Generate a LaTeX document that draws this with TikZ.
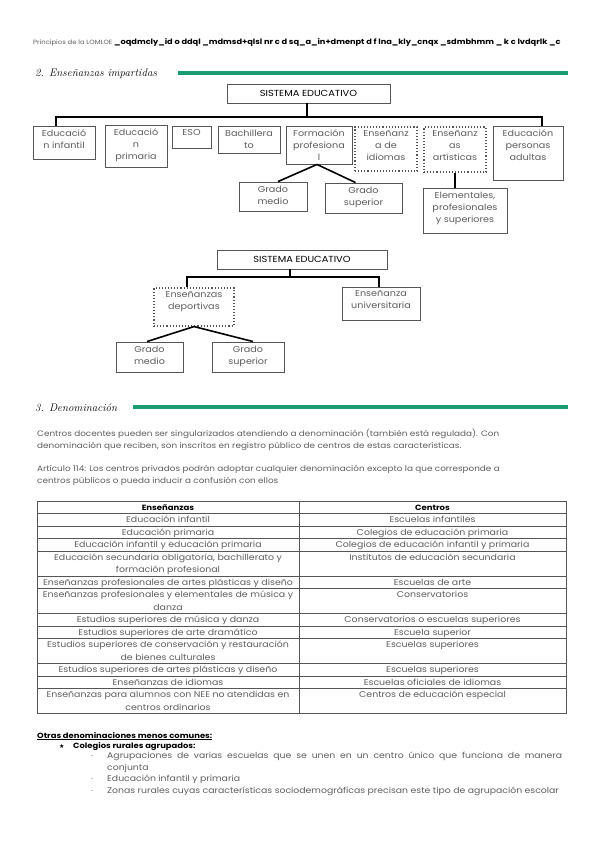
\documentclass[tikz,border=0pt]{standalone}
\usepackage{fontspec}
\newfontfamily\qs[FakeStretch=1.12]{Poppins}
\newfontfamily\djv{DejaVu Sans}
\usetikzlibrary{calc}
\definecolor{txt}{HTML}{5E5E5E}
\definecolor{bord}{HTML}{555555}
\definecolor{grn}{HTML}{189E6E}
\tikzset{
  bx/.style={draw=bord, line width=0.9pt, inner sep=0pt},
  dbx/.style={draw=bord, line width=1.1pt, dotted, inner sep=0pt},
  bt/.style={font=\qs\fontsize{8.6}{12}\selectfont, text=txt, align=center, inner sep=0pt},
  sys/.style={font=\qs\fontsize{8.8}{9}\selectfont, text=black, inner sep=0pt},
  conn/.style={line width=1.6pt, black},
  body/.style={font=\qs\fontsize{7.9}{12}\selectfont, text=txt, anchor=base west, inner sep=0pt},
  lst/.style={font=\qs\fontsize{8.3}{12}\selectfont, text=txt, anchor=base west, inner sep=0pt},
  cell/.style={font=\qs\fontsize{8.4}{9}\selectfont, text=txt, anchor=base, inner sep=0pt},
  cellh/.style={font=\qs\bfseries\fontsize{7.6}{9}\selectfont, text=black, anchor=base, inner sep=0pt},
  hand/.style={font=\rmfamily\itshape\fontsize{11}{12}\selectfont, text=black, anchor=base west, inner sep=0pt},
  gbar/.style={grn, line width=4pt},
  tline/.style={draw=bord, line width=0.8pt}
}
\newcommand{\mybox}[7]{%
  \pgfmathsetmacro{\bw}{#4-#2}\pgfmathsetmacro{\bh}{#5-#3}%
  \pgfmathsetmacro{\bcx}{(#2+#4)/2}\pgfmathsetmacro{\bcy}{(#3+#5)/2}%
  \node[#6, minimum width=\bw pt, minimum height=\bh pt] (#1) at (\bcx,\bcy) {};%
  \node[bt, anchor=north] (#1t) at ([yshift=-4pt]#1.north) {#7};}
\begin{document}
\begin{tikzpicture}[x=1pt,y=-1pt]
\useasboundingbox (0,0) rectangle (599,848);
\fill[white] (0,0) rectangle (599,848);

% header
\node[font=\qs\fontsize{6.1}{7}\selectfont, text=txt, anchor=base west, inner sep=0pt] (hdr) at (33,45) {Principios de la LOMLOE};
\node[font=\qs\bfseries\fontsize{7.35}{8}\selectfont, text=black, anchor=base west, inner sep=0pt] (hdr2) at (114,45) {\_oqdmcly\_id o ddql \_mdmsd+qlsl nr c d sq\_a\_in+dmenpt d f lna\_kly\_cnqx \_sdmbhmm \_ k c lvdqrlk \_c};

% section 2
\node[hand] (s2) at (35,77) {2. Enseñanzas impartidas};
\coordinate (g2a) at (178,73);
\coordinate (g2b) at (568,73);
\draw[gbar] (g2a) -- (g2b);

% top diagram
\mybox{top}{227}{84}{390}{103}{bx}{}
\node[sys] (topt) at (top) {SISTEMA EDUCATIVO};
\mybox{b1}{33}{126}{95}{159}{bx}{Educació\\n infantil}
\mybox{b2}{105}{125}{167}{167}{bx}{Educació\\n\\primaria}
\mybox{b3}{172}{126}{211}{148}{bx}{ESO}
\mybox{b4}{218}{126}{280}{153}{bx}{Bachillera\\to}
\mybox{b5}{286}{126}{352}{164}{bx}{Formación\\profesiona\\l}
\mybox{b6}{355}{127}{417}{171}{dbx}{Enseñanz\\a de\\idiomas}
\mybox{b7}{424}{127}{486}{172}{dbx}{Enseñanz\\as\\artísticas}
\mybox{b8}{493}{126}{563}{180}{bx}{Educación\\personas\\adultas}
\mybox{gm}{239}{182}{307}{211}{bx}{Grado\\medio}
\mybox{gs}{325}{183}{402}{213}{bx}{Grado\\superior}
\mybox{el}{423}{188}{507}{233}{bx}{Elementales,\\profesionales\\y superiores}

\coordinate (bus) at (0,117);
\draw[conn] ([xshift=-1.5pt]top.south) -- ([xshift=-1.5pt]top.south |- bus);
\draw[conn] ([xshift=-8pt]b1.north) -- ([xshift=-8pt]b1.north |- bus) -- ([xshift=14pt]b8.north |- bus) -- ([xshift=14pt]b8.north);
\draw[conn] ([xshift=-2pt]b5.south) -- ([xshift=5pt]gm.north);
\draw[conn] ([xshift=-2pt]b5.south) -- ([xshift=-8pt]gs.north);
\draw[conn] (b7.south) -- (b7.south |- el.north);

% bottom diagram
\mybox{top2}{217}{250}{387}{269}{bx}{}
\node[sys] (top2t) at (top2) {SISTEMA EDUCATIVO};
\mybox{dep}{154}{288}{234}{326}{dbx}{Enseñanzas\\deportivas}
\mybox{uni}{342}{287}{420}{320}{bx}{Enseñanza\\universitaria}
\mybox{gm2}{116}{342}{183}{372}{bx}{Grado\\medio}
\mybox{gs2}{212}{342}{284}{372}{bx}{Grado\\superior}
\coordinate (bus2) at (0,277);
\draw[conn] ([xshift=-12pt]top2.south) -- ([xshift=-12pt]top2.south |- bus2);
\draw[conn] ([xshift=-7pt]dep.north) -- ([xshift=-7pt]dep.north |- bus2) -- ([xshift=-2pt]uni.north |- bus2) -- ([xshift=-2pt]uni.north);
\draw[conn] (dep.south) -- ([xshift=-2.5pt]gm2.north);
\draw[conn] (dep.south) -- ([xshift=5pt]gs2.north);

% section 3
\node[hand] (s3) at (35,411) {3. Denominación};
\coordinate (g3a) at (133,407);
\coordinate (g3b) at (568,407);
\draw[gbar] (g3a) -- (g3b);

\node[body] (p1) at (37,436) {Centros docentes pueden ser singularizados atendiendo a denominación (también está regulada). Con};
\node[body] (p2) at (37,448) {denominación que reciben, son inscritos en registro público de centros de estas características.};
\node[body] (p3) at (37,471) {Artículo 114: Los centros privados podrán adoptar cualquier denominación excepto la que corresponde a};
\node[body] (p4) at (37,483) {centros públicos o pueda inducir a confusión con ellos};

% table
\draw[tline] (37,501) rectangle (566,713.5);
\draw[tline] (299,501) -- (299,713.5);
\foreach \yy in {513.5,526,538.5,551,576,588.5,613.5,626,638.5,663.5,676,688.5}
  \draw[tline] (37,\yy) -- (566,\yy);
\node[cellh] (h1) at (168,510) {Enseñanzas};
\node[cellh] (h2) at (432.5,510) {Centros};
\foreach \n/\yy/\tt in {
  1/522.5/{Educación infantil},
  2/535/{Educación primaria},
  3/547.5/{Educación infantil y educación primaria},
  4/560/{Educación secundaria obligatoria, bachillerato y},
  5/572.5/{formación profesional},
  6/585/{Enseñanzas profesionales de artes plásticas y diseño},
  7/597.5/{Enseñanzas profesionales y elementales de música y},
  8/610/{danza},
  9/622.5/{Estudios superiores de música y danza},
  10/635/{Estudios superiores de arte dramático},
  11/647.5/{Estudios superiores de conservación y restauración},
  12/660/{de bienes culturales},
  13/672.5/{Estudios superiores de artes plásticas y diseño},
  14/685/{Enseñanzas de idiomas},
  15/697.5/{Enseñanzas para alumnos con NEE  no atendidas en},
  16/710/{centros ordinarios}}
  \node[cell] (L\n) at (168,\yy) {\tt};
\foreach \n/\yy/\tt in {
  1/522.5/{Escuelas infantiles},
  2/535/{Colegios de educación primaria},
  3/547.5/{Colegios de educación infantil y primaria},
  4/560/{Institutos de educación secundaria},
  5/585/{Escuelas de arte},
  6/597.5/{Conservatorios},
  7/622.5/{Conservatorios o escuelas superiores},
  8/635/{Escuela superior},
  9/647.5/{Escuelas superiores},
  10/672.5/{Escuelas superiores},
  11/685/{Escuelas oficiales de idiomas},
  12/697.5/{Centros de educación especial}}
  \node[cell] (R\n) at (432.5,\yy) {\tt};

% bottom list
\node[font=\qs\bfseries\fontsize{7.5}{9}\selectfont, text=black, anchor=base west, inner sep=0pt] (o1) at (37,738) {\underline{Otras denominaciones menos comunes:}};
\node[font=\djv\fontsize{6}{7}\selectfont, anchor=base west, inner sep=0pt] (st) at (59,748) {★};
\node[font=\qs\bfseries\fontsize{7.5}{9}\selectfont, text=black, anchor=base west, inner sep=0pt] (o2) at (73,748) {Colegios rurales agrupados:};
\foreach \n/\yy in {1/758,2/781,3/793}
  \node[font=\qs\fontsize{7.8}{9}\selectfont, text=txt, anchor=base west, inner sep=0pt] (dot\n) at (91,\yy) {·};
\node[lst] (l1) at (107,758) {\makebox[455pt][s]{Agrupaciones de varias escuelas que se unen en un centro único que funciona de manera}};
\node[lst] (l2) at (107,770) {conjunta};
\node[lst] (l3) at (107,781) {Educación infantil y primaria};
\node[lst] (l4) at (107,793) {Zonas rurales cuyas características sociodemográficas precisan este tipo de agrupación escolar};
\end{tikzpicture}
\end{document}
